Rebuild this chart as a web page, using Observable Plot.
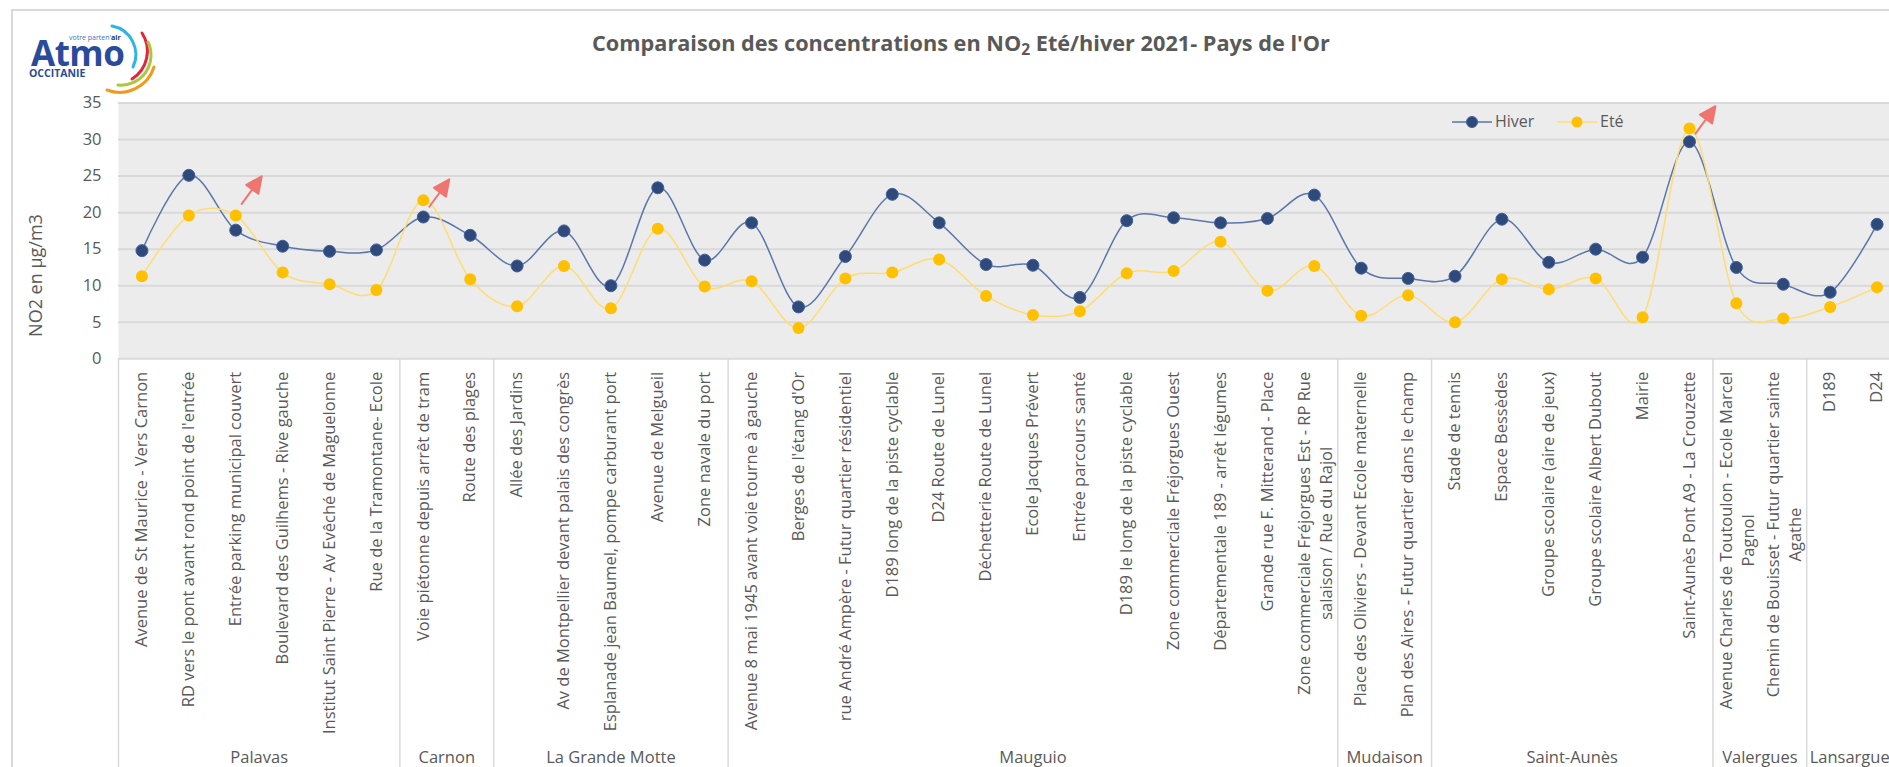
<!DOCTYPE html>
<html>
<head>
<meta charset="utf-8">
<script src="https://cdn.jsdelivr.net/npm/d3@7"></script>
<script src="https://cdn.jsdelivr.net/npm/@observablehq/plot@0.6"></script>
<style>
  html, body { margin: 0; padding: 0; background: #ffffff; overflow: hidden; }
  #wrap { position: relative; width: 1889px; height: 767px; overflow: hidden; font-family: 'Open Sans', sans-serif; }
  #border { position: absolute; left: 11px; top: 9px; width: 1900px; height: 800px; border-left: 2px solid #d9d9d9; border-top: 2px solid #d9d9d9; }
  #chart { position: absolute; left: 0; top: 0; }
  #title { position: absolute; left: 461px; width: 1000px; top: 32px; text-align: center; font: 700 21.7px/1 'Open Sans', sans-serif; color: #595959; white-space: nowrap; }
  #title sub { font-size: 0.72em; vertical-align: -0.25em; line-height: 0; }
  .leg { position: absolute; top: 113px; font: 400 16px/1 'Open Sans', sans-serif; color: #595959; white-space: nowrap; }
  #logo { position: absolute; left: 0; top: 0; width: 170px; height: 100px; }
  #logo div { position: absolute; white-space: nowrap; line-height: 1; font-family: 'Open Sans', sans-serif; }
</style>
</head>
<body>
<div id="wrap">
  <div id="border"></div>
  <div id="chart"></div>
  <div id="title">Comparaison des concentrations en NO<sub>2</sub> Eté/hiver 2021- Pays de l'Or</div>
  <svg id="legsym" style="position:absolute;left:1450px;top:109.7px" width="150" height="24">
    <line x1="2" y1="12" x2="42" y2="12" stroke="#5a76aa" stroke-width="1.5"></line>
    <circle cx="22" cy="12" r="5.5" fill="#2f4a7a" stroke="#40609a" stroke-width="1"></circle>
    <line x1="107" y1="12" x2="147" y2="12" stroke="#ffdc73" stroke-width="1.5"></line>
    <circle cx="127" cy="12" r="5.5" fill="#ffc000"></circle>
  </svg>
  <div class="leg" style="left:1495px">Hiver</div>
  <div class="leg" style="left:1600px">Eté</div>
  <div id="logo">
    <svg width="170" height="100" style="position:absolute;left:0;top:0">
      <path d="M112,26 A29,29 0 0 1 133,67" fill="none" stroke="#2cb5e8" stroke-width="3" stroke-linecap="round"></path>
      <path d="M142,33 A33,33 0 0 1 132,79" fill="none" stroke="#e3263b" stroke-width="3" stroke-linecap="round"></path>
      <path d="M148,42 A30,30 0 0 1 118,85" fill="none" stroke="#a9c93c" stroke-width="3" stroke-linecap="round"></path>
      <path d="M154,67 A36,36 0 0 1 107,90" fill="none" stroke="#f39a1e" stroke-width="3" stroke-linecap="round"></path>
    </svg>
    <div style="left:31px;top:34.5px;font-size:35px;font-weight:700;color:#2a4b9b;letter-spacing:-0.5px">Atmo</div>
    <div style="left:69px;top:34px;font-size:7px;color:#3b72c4">votre parten'<b style="color:#22357a">air</b></div>
    <div style="left:29px;top:68px;font-size:10.5px;font-weight:700;color:#2a4b9b">OCCITANIE</div>
  </div>
</div>
<script>
// ---- data ----
const categories = [
  "Avenue de St Maurice - Vers Carnon",
  "RD vers le pont avant rond point de l'entrée",
  "Entrée parking municipal couvert",
  "Boulevard des Guilhems - Rive gauche",
  "Institut Saint Pierre - Av Evêché de Maguelonne",
  "Rue de la Tramontane- Ecole",
  "Voie piétonne depuis arrêt de tram",
  "Route des plages",
  "Allée des Jardins",
  "Av de Montpellier devant palais des congrès",
  "Esplanade jean Baumel, pompe carburant port",
  "Avenue de Melgueil",
  "Zone navale du port",
  "Avenue 8 mai 1945 avant voie tourne à gauche",
  "Berges de l'étang d'Or",
  "rue André Ampère - Futur quartier résidentiel",
  "D189 long de la piste cyclable",
  "D24 Route de Lunel",
  "Déchetterie Route de Lunel",
  "Ecole Jacques Prévert",
  "Entrée parcours santé",
  "D189 le long de la piste cyclable",
  "Zone commerciale Fréjorgues Ouest",
  "Départementale 189 - arrêt légumes",
  "Grande rue F. Mitterand - Place",
  "Zone commerciale Fréjorgues Est - RP Rue\nsalaison / Rue du Rajol",
  "Place des Oliviers - Devant Ecole maternelle",
  "Plan des Aires - Futur quartier dans le champ",
  "Stade de tennis",
  "Espace Bessèdes",
  "Groupe scolaire (aire de jeux)",
  "Groupe scolaire Albert Dubout",
  "Mairie",
  "Saint-Aunès Pont A9 - La Crouzette",
  "Avenue Charles de Toutoulon - Ecole Marcel\nPagnol",
  "Chemin de Bouisset - Futur quartier sainte\nAgathe",
  "D189",
  "D24"
];
const groups = ["Palavas", "Carnon", "La Grande Motte", "Mauguio", "Mudaison", "Saint-Aunès", "Valergues", "Lansargues"];
const groupSizes = [6, 2, 5, 13, 2, 6, 2, 2];
const hiver = [14.8, 25.1, 17.6, 15.4, 14.7, 14.9, 19.4, 16.9, 12.7, 17.5, 10.0, 23.4, 13.5,
  18.6, 7.1, 14.0, 22.5, 18.6, 12.9, 12.8, 8.4, 18.9, 19.3, 18.6, 19.2, 22.4,
  12.4, 11.0, 11.3, 19.1, 13.2, 15.0, 13.9, 29.7, 12.5, 10.2, 9.1, 18.4];
const ete = [11.3, 19.6, 19.6, 11.8, 10.2, 9.4, 21.7, 10.9, 7.2, 12.7, 6.9, 17.8, 9.9,
  10.6, 4.2, 11.0, 11.8, 13.6, 8.6, 6.0, 6.5, 11.7, 12.0, 16.0, 9.3, 12.7,
  5.9, 8.7, 5.0, 10.9, 9.5, 11.0, 5.7, 31.5, 7.6, 5.5, 7.1, 9.8];
const yTicks = [0, 5, 10, 15, 20, 25, 30, 35];
const yLabel = "NO2 en µg/m3";
// annotation arrows (category index, value where the arrow starts)
const arrowCats = [2, 6, 33];
const arrowFrom = [21.2, 20.8, 30.8];

// ---- derived tables ----
const rows = categories.map((cat, i) => ({i, cat, hiver: hiver[i], ete: ete[i]}));
let acc = 0;
const groupRows = groups.map((name, k) => { const start = acc; acc += groupSizes[k]; return {name, start, end: acc}; });
const arrows = arrowCats.map((i, k) => ({i, from: arrowFrom[k]}));

const textColor = "#595959";
const FS = 16.5;
const ctx = document.createElement("canvas").getContext("2d");
ctx.font = `${FS}px 'Open Sans'`;
const singleRows = rows.filter(r => !r.cat.includes("\n"));
const multiRows = rows.filter(r => r.cat.includes("\n")).map(r => ({
  ...r, half: Math.max(...r.cat.split("\n").map(s => ctx.measureText(s).width)) / 2
}));

const arrowShape = {
  draw(context, l) {
    const h = 16, w = 7.5;
    context.moveTo(0, 0);
    context.lineTo(0, -l + h);
    context.moveTo(-w, -l + h);
    context.lineTo(0, -l);
    context.lineTo(w, -l + h);
    context.closePath();
  }
};

const W = 1889, H = 767;
const chart = Plot.plot({
  width: W,
  height: H,
  marginLeft: 118,
  marginRight: 0,
  marginTop: 102.5,
  marginBottom: 408.7,
  style: {fontFamily: "'Open Sans', sans-serif", background: "transparent", color: textColor},
  x: {type: "linear", domain: [0, 38], range: [118, 1900], axis: null},
  y: {domain: [0, 35], label: null},
  marks: [
    Plot.frame({fill: "#ececec", stroke: null}),
    Plot.gridY({ticks: yTicks, stroke: "#d9d9d9", strokeOpacity: 1, strokeWidth: 2}),
    Plot.axisY({ticks: yTicks, tickSize: 0, tickPadding: 17, fontSize: FS, fill: textColor, label: null}),
    Plot.text([yLabel], {text: d => d, frameAnchor: "left", dx: -82, dy: 44.6, rotate: -90, textAnchor: "middle", lineAnchor: "middle", fontSize: 18, fill: textColor}),
    // group separators & labels
    Plot.ruleX(groupRows, {x: "start", insetTop: 255.8, insetBottom: -408.7, stroke: "#d9d9d9", strokeWidth: 1.5}),
    Plot.text(groupRows, {x: d => (d.start + d.end) / 2, text: "name", frameAnchor: "bottom", dy: 398.5, lineAnchor: "middle", fontSize: FS, fill: textColor}),
    // category labels
    Plot.text(singleRows, {x: d => d.i + 0.5, text: "cat", frameAnchor: "bottom", dy: 13, rotate: -90, textAnchor: "end", lineAnchor: "middle", fontSize: FS, fill: textColor}),
    ...multiRows.map(r => Plot.text([r], {x: d => d.i + 0.5, text: "cat", frameAnchor: "bottom", dy: 13 + r.half, rotate: -90, textAnchor: "middle", lineAnchor: "middle", lineHeight: 1.33, fontSize: FS, fill: textColor})),
    // series
    Plot.line(rows, {x: d => d.i + 0.5, y: "hiver", curve: "cardinal", stroke: "#5a76aa", strokeWidth: 1.5}),
    Plot.dot(rows, {x: d => d.i + 0.5, y: "hiver", r: 6, fill: "#2f4a7a", stroke: "#40609a", strokeWidth: 1}),
    Plot.line(rows, {x: d => d.i + 0.5, y: "ete", curve: "cardinal", stroke: "#ffdc73", strokeWidth: 1.5}),
    Plot.dot(rows, {x: d => d.i + 0.5, y: "ete", r: 6, fill: "#ffc000"}),
    // annotation arrows
    Plot.vector(arrows, {x: d => d.i + 0.5, y: "from", dx: 6, length: 34, rotate: 36, anchor: "start", shape: arrowShape, stroke: "#f07470", fill: "#f07470", strokeWidth: 2})
  ]
});
document.getElementById("chart").appendChild(chart);
</script>
</body>
</html>
